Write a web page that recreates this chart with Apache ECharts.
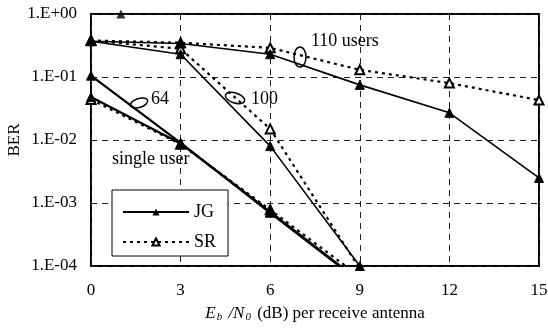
<!DOCTYPE html>
<html><head><meta charset="utf-8">
<script src="https://cdn.jsdelivr.net/npm/echarts@6/dist/echarts.min.js"></script>
<style>html,body{margin:0;padding:0;background:#fff}#c{width:548px;height:328px}</style>
</head><body><div id="c"></div>
<script>
const snr = [0, 3, 6, 9, 12, 15];
const jgSingle = [0.048, 0.0088, 0.00072, 0.000058];
const srSingle = [0.044, 0.0086, 0.00078, 0.000068];
const jg64 = [0.105, 0.009, 0.0007, 0.000056];
const jg100 = [0.37, 0.23, 0.008, 0.0001];
const sr100 = [0.38, 0.28, 0.015, 0.00009];
const jg110 = [0.37, 0.34, 0.23, 0.075, 0.027, 0.0025];
const sr110 = [0.38, 0.35, 0.29, 0.13, 0.08, 0.043];
const strayX = [1];
const strayY = [1.0];
const yTickLabels = ['1.E+00', '1.E-01', '1.E-02', '1.E-03', '1.E-04'];

const FONT = '"Liberation Serif", "DejaVu Serif", serif';
const pair = (xs, ys) => ys.map((y, i) => [xs[i], y]);

function jg(data, w) {
  return { name: 'JG', type: 'line', data: data, symbol: 'triangle', symbolSize: 9,
    lineStyle: { color: '#000', width: w || 1.6, type: 'solid' },
    itemStyle: { color: '#000', borderColor: '#000' }, z: 3 };
}
function sr(data, w) {
  return { name: 'SR', type: 'line', data: data, symbol: 'triangle', symbolSize: 9,
    lineStyle: { color: '#000', width: w || 2.2, type: [3, 4] },
    itemStyle: { color: '#fff', borderColor: '#000', borderWidth: 2 }, z: 2 };
}

const chart = echarts.init(document.getElementById('c'));
chart.setOption({
  animation: false,
  backgroundColor: '#fff',
  grid: { left: 91, right: 9, top: 14, bottom: 62, show: true, borderColor: '#000', borderWidth: 2,
    containLabel: false, outerBoundsMode: 'none' },
  xAxis: {
    type: 'value', min: 0, max: 15, interval: 3,
    axisLine: { show: false }, axisTick: { show: false },
    axisLabel: { fontFamily: FONT, fontSize: 17, color: '#000', margin: 16 },
    splitLine: { show: true, lineStyle: { color: '#222', width: 1, type: [6, 5] } },
    name: '{i|E}{s|b}{i| /N}{s|0}{n| (dB) per receive antenna}',
    nameLocation: 'middle', nameGap: 39,
    nameTextStyle: {
      fontFamily: FONT, fontSize: 17, color: '#000',
      rich: {
        i: { fontFamily: FONT, fontSize: 17, fontStyle: 'italic', color: '#000' },
        s: { fontFamily: FONT, fontSize: 11, fontStyle: 'italic', color: '#000', verticalAlign: 'bottom', padding: [7, 2, 0, 1] },
        n: { fontFamily: FONT, fontSize: 17, color: '#000' }
      }
    }
  },
  yAxis: {
    type: 'log', logBase: 10, min: 0.0001, max: 1,
    axisLine: { show: false }, axisTick: { show: false },
    axisLabel: {
      fontFamily: FONT, fontSize: 17, color: '#000', margin: 14,
      formatter: v => yTickLabels[-Math.round(Math.log10(v))]
    },
    splitLine: { show: true, lineStyle: { color: '#222', width: 1, type: [6, 5] } },
    name: 'BER', nameLocation: 'middle', nameGap: 68, nameRotate: 90, nameMoveOverlap: false,
    nameTextStyle: { fontFamily: FONT, fontSize: 17, color: '#000' }
  },
  legend: {
    data: ['JG', 'SR'], orient: 'vertical', left: 112, top: 190,
    backgroundColor: '#fff', borderColor: '#000', borderWidth: 1,
    padding: [13, 12, 5, 10], itemWidth: 66, itemHeight: 9, itemGap: 12,
    textStyle: { fontFamily: FONT, fontSize: 18, color: '#000' }
  },
  series: [
    jg(pair(snr, jg110)), sr(pair(snr, sr110)),
    jg(pair(snr, jg100)), sr(pair(snr, sr100)),
    jg(pair(snr, jg64), 2.2),
    jg(pair(snr, jgSingle), 2.2), sr(pair(snr, srSingle)),
    { name: 'JG', type: 'scatter', data: pair(strayX, strayY), symbol: 'triangle', symbolSize: 9,
      itemStyle: { color: '#000' } }
  ],
  graphic: [
    { type: 'text', left: 311, top: 32, style: { text: '110 users', font: '18px ' + FONT, fill: '#000' } },
    { type: 'ellipse', shape: { cx: 300, cy: 57, rx: 6, ry: 10 }, style: { fill: 'none', stroke: '#000', lineWidth: 1.5 } },
    { type: 'text', left: 251, top: 90, style: { text: '100', font: '18px ' + FONT, fill: '#000' } },
    { type: 'ellipse', shape: { cx: 235, cy: 98, rx: 10, ry: 5 }, rotation: -0.3, originX: 235, originY: 98, style: { fill: 'none', stroke: '#000', lineWidth: 1.5 } },
    { type: 'text', left: 151, top: 90, style: { text: '64', font: '18px ' + FONT, fill: '#000' } },
    { type: 'ellipse', shape: { cx: 139, cy: 103, rx: 9, ry: 4.5 }, rotation: 0.3, originX: 139, originY: 103, style: { fill: 'none', stroke: '#000', lineWidth: 1.5 } },
    { type: 'text', left: 112, top: 150, style: { text: 'single user', font: '18px ' + FONT, fill: '#000' } }
  ]
});
</script></body></html>
